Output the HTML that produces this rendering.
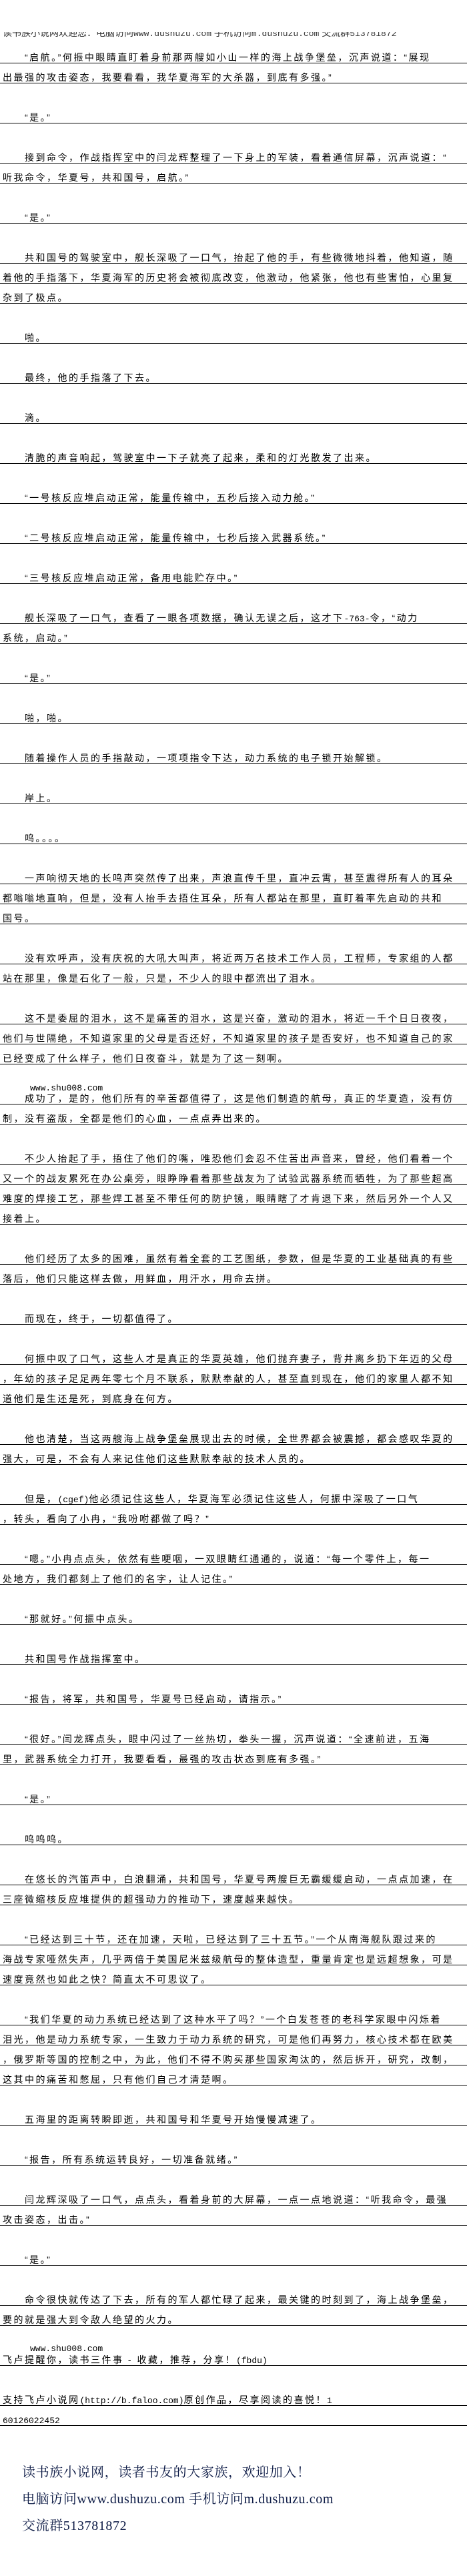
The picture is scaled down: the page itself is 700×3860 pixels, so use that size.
<!DOCTYPE html>
<html><head><meta charset="utf-8">
<style>
html,body{margin:0;padding:0;background:#fff;}
body{width:700px;height:3860px;position:relative;overflow:hidden;font-family:"Liberation Sans","Noto Sans CJK SC",sans-serif;color:#000;}
.l{position:absolute;left:0;width:700px;height:16px;line-height:16px;border-bottom:1px solid #000;font-size:14px;letter-spacing:2.5px;white-space:nowrap;padding-left:4px;box-sizing:content-box;}
.i{padding-left:37px;width:667px;}
.l{width:696px;}
.l.i{width:663px;}
.m{font-family:"Liberation Mono","Noto Sans CJK SC",monospace;font-size:13px;letter-spacing:0;}
.w{position:absolute;left:45px;font-family:"Liberation Mono",monospace;font-size:13px;line-height:16px;}
.hd{position:absolute;left:0;top:48px;width:700px;height:9px;overflow:hidden;}
.hd div{position:absolute;left:4px;top:-7px;font-size:14px;line-height:16px;color:#333;white-space:nowrap;}
.f{position:absolute;left:33px;font-family:"Liberation Serif","Noto Serif CJK SC",serif;font-size:20px;line-height:24px;color:#0c1a45;letter-spacing:0.6px;white-space:nowrap;}
</style></head><body>
<div class="hd"><div>读书族小说网欢迎您：电脑访问<span class="m">www.dushuzu.com</span> 手机访问<span class="m">m.dushuzu.com</span> 交流群<span class="m">513781872</span></div></div>

<div class="l i" style="top:78px">“启航。”何振中眼睛直盯着身前那两艘如小山一样的海上战争堡垒，沉声说道：“展现</div>
<div class="l" style="top:108px">出最强的攻击姿态，我要看看，我华夏海军的大杀器，到底有多强。”</div>
<div class="l i" style="top:168px">“是。”</div>
<div class="l i" style="top:228px">接到命令，作战指挥室中的闫龙辉整理了一下身上的军装，看着通信屏幕，沉声说道：“</div>
<div class="l" style="top:258px">听我命令，华夏号，共和国号，启航。”</div>
<div class="l i" style="top:318px">“是。”</div>
<div class="l i" style="top:378px">共和国号的驾驶室中，舰长深吸了一口气，抬起了他的手，有些微微地抖着，他知道，随</div>
<div class="l" style="top:408px">着他的手指落下，华夏海军的历史将会被彻底改变，他激动，他紧张，他也有些害怕，心里复</div>
<div class="l" style="top:438px">杂到了极点。</div>
<div class="l i" style="top:498px">啪。</div>
<div class="l i" style="top:558px">最终，他的手指落了下去。</div>
<div class="l i" style="top:618px">滴。</div>
<div class="l i" style="top:678px">清脆的声音响起，驾驶室中一下子就亮了起来，柔和的灯光散发了出来。</div>
<div class="l i" style="top:738px">“一号核反应堆启动正常，能量传输中，五秒后接入动力舱。”</div>
<div class="l i" style="top:798px">“二号核反应堆启动正常，能量传输中，七秒后接入武器系统。”</div>
<div class="l i" style="top:858px">“三号核反应堆启动正常，备用电能贮存中。”</div>
<div class="l i" style="top:918px">舰长深吸了一口气，查看了一眼各项数据，确认无误之后，这才下<span class="m">-763-</span>令，“动力</div>
<div class="l" style="top:948px">系统，启动。”</div>
<div class="l i" style="top:1008px">“是。”</div>
<div class="l i" style="top:1068px">啪，啪。</div>
<div class="l i" style="top:1128px">随着操作人员的手指敲动，一项项指令下达，动力系统的电子锁开始解锁。</div>
<div class="l i" style="top:1188px">岸上。</div>
<div class="l i" style="top:1248px">呜。。。。</div>
<div class="l i" style="top:1308px">一声响彻天地的长鸣声突然传了出来，声浪直传千里，直冲云霄，甚至震得所有人的耳朵</div>
<div class="l" style="top:1338px">都嗡嗡地直响，但是，没有人抬手去捂住耳朵，所有人都站在那里，直盯着率先启动的共和</div>
<div class="l" style="top:1368px">国号。</div>
<div class="l i" style="top:1428px">没有欢呼声，没有庆祝的大吼大叫声，将近两万名技术工作人员，工程师，专家组的人都</div>
<div class="l" style="top:1458px">站在那里，像是石化了一般，只是，不少人的眼中都流出了泪水。</div>
<div class="l i" style="top:1518px">这不是委屈的泪水，这不是痛苦的泪水，这是兴奋，激动的泪水，将近一千个日日夜夜，</div>
<div class="l" style="top:1548px">他们与世隔绝，不知道家里的父母是否还好，不知道家里的孩子是否安好，也不知道自己的家</div>
<div class="l" style="top:1578px">已经变成了什么样子，他们日夜奋斗，就是为了这一刻啊。</div>
<div class="w" style="top:1623px">www.shu008.com</div>
<div class="l i" style="top:1638px">成功了，是的，他们所有的辛苦都值得了，这是他们制造的航母，真正的华夏造，没有仿</div>
<div class="l" style="top:1668px">制，没有盗版，全都是他们的心血，一点点弄出来的。</div>
<div class="l i" style="top:1728px">不少人抬起了手，捂住了他们的嘴，唯恐他们会忍不住苦出声音来，曾经，他们看着一个</div>
<div class="l" style="top:1758px">又一个的战友累死在办公桌旁，眼睁睁看着那些战友为了试验武器系统而牺牲，为了那些超高</div>
<div class="l" style="top:1788px">难度的焊接工艺，那些焊工甚至不带任何的防护镜，眼睛瞎了才肯退下来，然后另外一个人又</div>
<div class="l" style="top:1818px">接着上。</div>
<div class="l i" style="top:1878px">他们经历了太多的困难，虽然有着全套的工艺图纸，参数，但是华夏的工业基础真的有些</div>
<div class="l" style="top:1908px">落后，他们只能这样去做，用鲜血，用汗水，用命去拼。</div>
<div class="l i" style="top:1968px">而现在，终于，一切都值得了。</div>
<div class="l i" style="top:2028px">何振中叹了口气，这些人才是真正的华夏英雄，他们抛弃妻子，背井离乡扔下年迈的父母</div>
<div class="l" style="top:2058px">，年幼的孩子足足两年零七个月不联系，默默奉献的人，甚至直到现在，他们的家里人都不知</div>
<div class="l" style="top:2088px">道他们是生还是死，到底身在何方。</div>
<div class="l i" style="top:2148px">他也清楚，当这两艘海上战争堡垒展现出去的时候，全世界都会被震撼，都会感叹华夏的</div>
<div class="l" style="top:2178px">强大，可是，不会有人来记住他们这些默默奉献的技术人员的。</div>
<div class="l i" style="top:2238px">但是，<span class="m">(cgef)</span>他必须记住这些人，华夏海军必须记住这些人，何振中深吸了一口气</div>
<div class="l" style="top:2268px">，转头，看向了小冉，“我吩咐都做了吗？”</div>
<div class="l i" style="top:2328px">“嗯。”小冉点点头，依然有些哽咽，一双眼睛红通通的，说道：“每一个零件上，每一</div>
<div class="l" style="top:2358px">处地方，我们都刻上了他们的名字，让人记住。”</div>
<div class="l i" style="top:2418px">“那就好。”何振中点头。</div>
<div class="l i" style="top:2478px">共和国号作战指挥室中。</div>
<div class="l i" style="top:2538px">“报告，将军，共和国号，华夏号已经启动，请指示。”</div>
<div class="l i" style="top:2598px">“很好。”闫龙辉点头，眼中闪过了一丝热切，拳头一握，沉声说道：“全速前进，五海</div>
<div class="l" style="top:2628px">里，武器系统全力打开，我要看看，最强的攻击状态到底有多强。”</div>
<div class="l i" style="top:2688px">“是。”</div>
<div class="l i" style="top:2748px">呜呜呜。</div>
<div class="l i" style="top:2808px">在悠长的汽笛声中，白浪翻涌，共和国号，华夏号两艘巨无霸缓缓启动，一点点加速，在</div>
<div class="l" style="top:2838px">三座微缩核反应堆提供的超强动力的推动下，速度越来越快。</div>
<div class="l i" style="top:2898px">“已经达到三十节，还在加速，天啦，已经达到了三十五节。”一个从南海舰队跟过来的</div>
<div class="l" style="top:2928px">海战专家哑然失声，几乎两倍于美国尼米兹级航母的整体造型，重量肯定也是远超想象，可是</div>
<div class="l" style="top:2958px">速度竟然也如此之快？简直太不可思议了。</div>
<div class="l i" style="top:3018px">“我们华夏的动力系统已经达到了这种水平了吗？”一个白发苍苍的老科学家眼中闪烁着</div>
<div class="l" style="top:3048px">泪光，他是动力系统专家，一生致力于动力系统的研究，可是他们再努力，核心技术都在欧美</div>
<div class="l" style="top:3078px">，俄罗斯等国的控制之中，为此，他们不得不购买那些国家淘汰的，然后拆开，研究，改制，</div>
<div class="l" style="top:3108px">这其中的痛苦和憋屈，只有他们自己才清楚啊。</div>
<div class="l i" style="top:3168px">五海里的距离转瞬即逝，共和国号和华夏号开始慢慢减速了。</div>
<div class="l i" style="top:3228px">“报告，所有系统运转良好，一切准备就绪。”</div>
<div class="l i" style="top:3288px">闫龙辉深吸了一口气，点点头，看着身前的大屏幕，一点一点地说道：“听我命令，最强</div>
<div class="l" style="top:3318px">攻击姿态，出击。”</div>
<div class="l i" style="top:3378px">“是。”</div>
<div class="l i" style="top:3438px">命令很快就传达了下去，所有的军人都忙碌了起来，最关键的时刻到了，海上战争堡垒，</div>
<div class="l" style="top:3468px">要的就是强大到令敌人绝望的火力。</div>
<div class="w" style="top:3512px">www.shu008.com</div>
<div class="l" style="top:3528px">飞卢提醒你，读书三件事 - 收藏，推荐，分享！<span class="m">(fbdu)</span></div>
<div class="l" style="top:3588px">支持飞卢小说网<span class="m">(http://b.faloo.com)</span>原创作品，尽享阅读的喜悦！<span class="m">1</span></div>
<div class="l" style="top:3618px"><span class="m">60126022452</span></div>

<div class="f" style="top:3693px">读书族小说网，读者书友的大家族，欢迎加入！</div>
<div class="f" style="top:3733px">电脑访问www.dushuzu.com 手机访问m.dushuzu.com</div>
<div class="f" style="top:3773px">交流群513781872</div>
</body></html>
